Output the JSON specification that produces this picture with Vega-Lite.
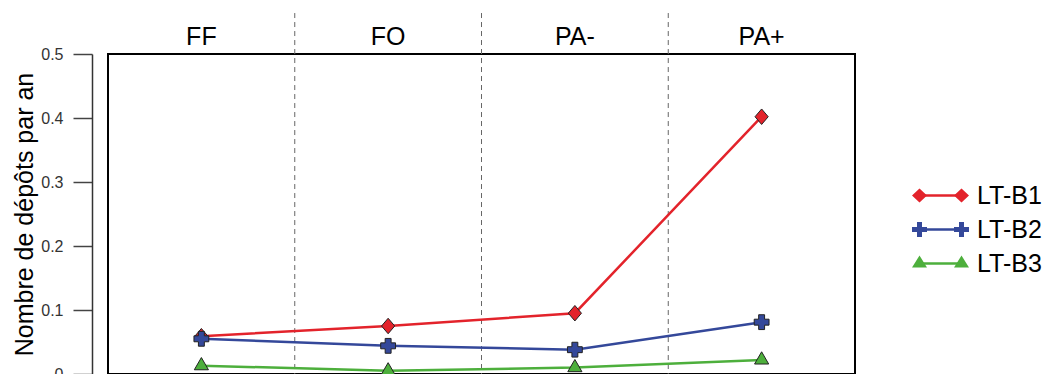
{
  "$schema": "https://vega.github.io/schema/vega-lite/v6.json",
  "autosize": {"type": "none"},
  "width": 747,
  "height": 320,
  "padding": {"left": 108, "top": 54, "right": 197, "bottom": 0},
  "config": {
    "font": "Liberation Sans",
    "view": {"stroke": "#000", "strokeWidth": 2},
    "axis": {"grid": false}
  },
  "datasets": {
    "pts": [
      {"site": "FF", "series": "LT-B1", "value": 0.059},
      {"site": "FO", "series": "LT-B1", "value": 0.075},
      {"site": "PA-", "series": "LT-B1", "value": 0.095},
      {"site": "PA+", "series": "LT-B1", "value": 0.402},
      {"site": "FF", "series": "LT-B2", "value": 0.055},
      {"site": "FO", "series": "LT-B2", "value": 0.044},
      {"site": "PA-", "series": "LT-B2", "value": 0.038},
      {"site": "PA+", "series": "LT-B2", "value": 0.081},
      {"site": "FF", "series": "LT-B3", "value": 0.013},
      {"site": "FO", "series": "LT-B3", "value": 0.005},
      {"site": "PA-", "series": "LT-B3", "value": 0.01},
      {"site": "PA+", "series": "LT-B3", "value": 0.022}
    ],
    "seps": [{"site": "FO"}, {"site": "PA-"}, {"site": "PA+"}]
  },
  "resolve": {"scale": {"shape": "independent", "fill": "independent"}},
  "layer": [
    {
      "data": {"name": "seps"},
      "mark": {"type": "rule", "color": "#666", "strokeWidth": 1, "strokeDash": [5, 4]},
      "encoding": {
        "x": {"field": "site", "type": "nominal", "bandPosition": 0,
          "scale": {"type": "band", "domain": ["FF", "FO", "PA-", "PA+"], "paddingInner": 0, "paddingOuter": 0},
          "axis": {"orient": "top", "title": null, "domain": false, "ticks": false, "tickSize": 0, "labelPadding": 5, "labelFontSize": 25, "labelColor": "#000", "labelAngle": 0}},
        "y": {"datum": 0.564, "type": "quantitative",
          "scale": {"domain": [0, 0.5], "nice": false, "zero": false},
          "axis": {"orient": "left", "offset": 16, "title": "Nombre de dépôts par an", "titleFontSize": 25, "titleFontWeight": "normal", "titleColor": "#000", "titlePadding": 3,
            "values": [0, 0.05, 0.1, 0.15, 0.2, 0.25, 0.3, 0.35, 0.4, 0.45, 0.5],
            "labelExpr": "abs(datum.value*10 - round(datum.value*10)) < 0.001 ? (datum.value == 0 ? '0' : format(datum.value, '.1f')) : ''",
            "tickSize": {"condition": {"test": "abs(datum.value*10 - round(datum.value*10)) < 0.001", "value": 19}, "value": 10},
            "labelPadding": 10, "labelFontSize": 16, "labelColor": "#333", "labelFlush": false,
            "domainColor": "#333", "domainWidth": 1.5, "tickColor": "#444", "tickWidth": 1.5}},
        "y2": {"datum": 0}
      }
    },
    {
      "data": {"name": "pts"},
      "mark": {"type": "line", "strokeWidth": 2.5},
      "encoding": {
        "x": {"field": "site", "type": "nominal", "scale": {"type": "band", "domain": ["FF", "FO", "PA-", "PA+"], "paddingInner": 0, "paddingOuter": 0}},
        "y": {"field": "value", "type": "quantitative"},
        "color": {"field": "series", "type": "nominal",
          "scale": {"domain": ["LT-B1", "LT-B2", "LT-B3"], "range": ["#e3232b", "#34489a", "#4daf3c"]},
          "legend": {"orient": "none", "legendX": 820, "legendY": 129, "title": null, "padding": 0,
            "symbolType": "M-2.625,0H2.625", "symbolSize": 256, "symbolStrokeWidth": 2.5,
            "labelFontSize": 25, "labelOpacity": 0, "labelOffset": 24, "rowPadding": 8}}
      }
    },
    {
      "data": {"name": "pts"},
      "mark": {"type": "point", "filled": true, "opacity": 1, "stroke": "#222", "strokeWidth": 1},
      "encoding": {
        "x": {"field": "site", "type": "nominal", "scale": {"type": "band", "domain": ["FF", "FO", "PA-", "PA+"], "paddingInner": 0, "paddingOuter": 0}},
        "y": {"field": "value", "type": "quantitative"},
        "fill": {"field": "series", "type": "nominal", "scale": {"range": ["#e3232b", "#34489a", "#4daf3c"]}, "legend": null},
        "shape": {"field": "series", "type": "nominal",
          "scale": {"range": ["M0,-1L0.85,0L0,1L-0.85,0Z", "cross", "M0,-1.15L1,0.58L-1,0.58Z"]}, "legend": null},
        "size": {"field": "series", "type": "nominal", "scale": {"range": [240, 200, 180]}, "legend": null}
      }
    },
    {
      "data": {"name": "pts"},
      "mark": {"type": "point", "filled": true, "opacity": 0, "stroke": "#222", "strokeWidth": 1},
      "encoding": {
        "x": {"field": "site", "type": "nominal", "scale": {"type": "band", "domain": ["FF", "FO", "PA-", "PA+"], "paddingInner": 0, "paddingOuter": 0}},
        "y": {"field": "value", "type": "quantitative"},
        "fill": {"field": "series", "type": "nominal", "scale": {"range": ["#e3232b", "#34489a", "#4daf3c"]},
          "legend": {"orient": "none", "legendX": 820, "legendY": 129, "title": null, "padding": 0,
            "symbolSize": 256, "symbolOpacity": 1, "symbolStrokeColor": "#222", "symbolStrokeWidth": 1,
            "labelFontSize": 25, "labelColor": "#000", "labelOffset": 24, "rowPadding": 8}},
        "shape": {"field": "series", "type": "nominal",
          "scale": {"range": [
            "M-3.5625,0L-2.625,-0.875L-1.6875,0L-2.625,0.875Z M1.6875,0L2.625,-0.875L3.5625,0L2.625,0.875Z",
            "M-2.9375,-0.9375H-2.3125V-0.3125H-1.6875V0.3125H-2.3125V0.9375H-2.9375V0.3125H-3.5625V-0.3125H-2.9375Z M2.3125,-0.9375H2.9375V-0.3125H3.5625V0.3125H2.9375V0.9375H2.3125V0.3125H1.6875V-0.3125H2.3125Z",
            "M-2.625,-1L-1.6875,0.5L-3.5625,0.5Z M2.625,-1L3.5625,0.5L1.6875,0.5Z"]},
          "legend": {"orient": "none", "legendX": 820, "legendY": 129, "title": null, "padding": 0,
            "symbolSize": 256, "symbolOpacity": 1, "symbolStrokeColor": "#222", "symbolStrokeWidth": 1,
            "labelFontSize": 25, "labelColor": "#000", "labelOffset": 24, "rowPadding": 8}}
      }
    }
  ]
}
